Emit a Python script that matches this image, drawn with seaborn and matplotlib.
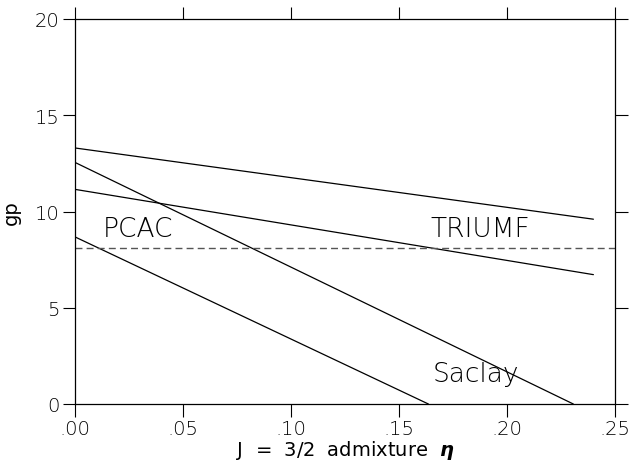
import seaborn as sns
import matplotlib.pyplot as plt
import pandas as pd

# end points of each line (eta, gp)
eta_a = [0.0, 0.24]
gp_a = [13.3, 9.6]
eta_b = [0.0, 0.24]
gp_b = [11.15, 6.72]
eta_c = [0.0, 0.2307]
gp_c = [12.55, 0.0]
eta_d = [0.0, 0.1636]
gp_d = [8.68, 0.0]
gp_ref = 8.1

labels = ['PCAC', 'TRIUMF', 'Saclay']
label_x = [0.013, 0.1644, 0.1657]
label_y = [8.74, 8.74, 1.19]

xticks = [0.0, 0.05, 0.10, 0.15, 0.20, 0.25]
xticklabels = ['.00', '.05', '.10', '.15', '.20', '.25']
yticks = [0, 5, 10, 15, 20]

sns.set_style('ticks')
plt.rcParams['font.family'] = ['DejaVu Sans']
plt.rcParams['font.weight'] = 'light'
plt.rcParams['text.color'] = 'black'
plt.rcParams['axes.labelcolor'] = 'black'
plt.rcParams['xtick.color'] = 'black'
plt.rcParams['ytick.color'] = 'black'
plt.rcParams['axes.edgecolor'] = 'black'

fig = plt.figure(figsize=(6.32, 4.64), dpi=100)
ax = fig.add_axes([75/632, 1 - 405/464, 540/632, 385/464])

for xs, ys in [(eta_a, gp_a), (eta_b, gp_b), (eta_c, gp_c), (eta_d, gp_d)]:
    df = pd.DataFrame({'eta': xs, 'gp': ys})
    sns.lineplot(data=df, x='eta', y='gp', ax=ax, color='black', lw=0.9)

ax.axhline(gp_ref, color='#555555', lw=1.0, ls=(0, (5, 3)))

for t, x, y in zip(labels, label_x, label_y):
    ax.text(x, y, t, fontsize=19, va='baseline', ha='left', fontweight='light')

ax.set_xlim(0, 0.25)
ax.set_ylim(0, 20)
ax.set_xticks(xticks)
ax.set_xticklabels(xticklabels)
ax.set_yticks(yticks)
ax.tick_params(direction='out', length=9, width=0.8, labelsize=14,
               top=True, right=True, labeltop=False, labelright=False, pad=2)
for s in ax.spines.values():
    s.set_linewidth(0.9)
ax.set_xlabel('J  =  3/2  admixture  $\\boldsymbol{\\eta}$', fontsize=14, labelpad=0)
ax.set_ylabel('gp', fontsize=14, labelpad=10)

fig.savefig('out.png', dpi=100)
